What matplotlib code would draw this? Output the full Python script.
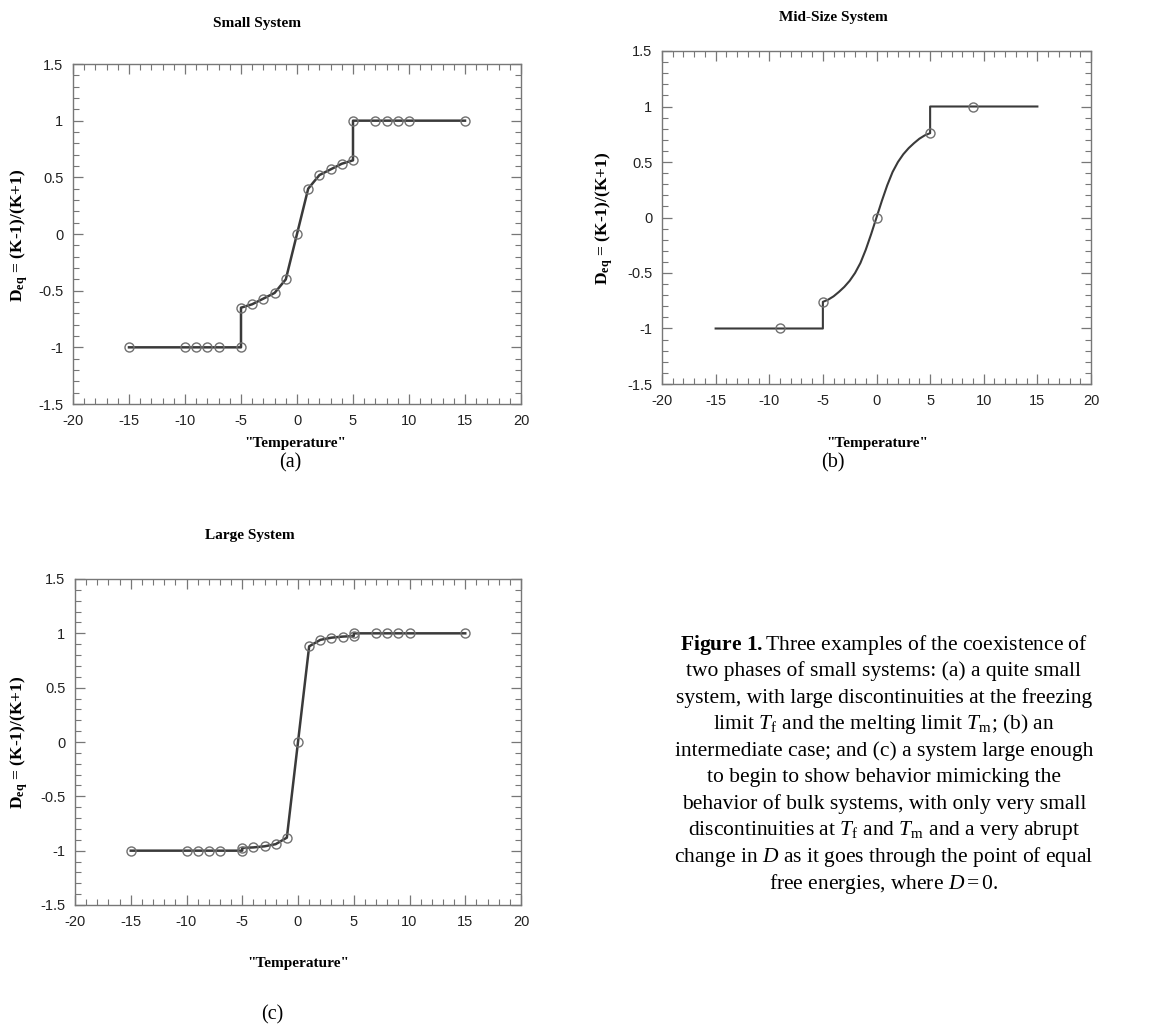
import matplotlib
matplotlib.use("Agg")
import matplotlib.pyplot as plt
from matplotlib.ticker import MultipleLocator

plt.rcParams['mathtext.fontset'] = 'custom'
plt.rcParams['mathtext.rm'] = 'Liberation Serif'
plt.rcParams['mathtext.it'] = 'Liberation Serif:italic'
plt.rcParams['mathtext.bf'] = 'Liberation Serif:bold'

# ---------------- data ----------------
# (a) small system
small_x = [-15, -10, -9, -8, -7, -5, -5, -4, -3, -2, -1, 0, 1, 2, 3, 4, 5, 5, 7, 8, 9, 10, 15]
small_y = [-1, -1, -1, -1, -1, -1, -0.65, -0.62, -0.57, -0.52, -0.40, 0, 0.40, 0.52, 0.57, 0.62, 0.65, 1, 1, 1, 1, 1, 1]

# (b) mid-size system: curve and markers
mid_curve_x = [-15, -5, -5, -4.5, -4, -3.5, -3, -2.5, -2, -1.5, -1, -0.5, 0,
               0.5, 1, 1.5, 2, 2.5, 3, 3.5, 4, 4.5, 5, 5, 15]
mid_curve_y = [-1, -1, -0.76, -0.74, -0.71, -0.67, -0.625, -0.57, -0.50, -0.41, -0.29, -0.15, 0,
               0.15, 0.29, 0.41, 0.50, 0.57, 0.625, 0.67, 0.71, 0.74, 0.76, 1, 1]
mid_mark_x = [-9, -5, 0, 5, 9]
mid_mark_y = [-1, -0.76, 0, 0.76, 1]

# (c) large system
large_x = [-15, -10, -9, -8, -7, -5, -5, -4, -3, -2, -1, 0, 1, 2, 3, 4, 5, 5, 7, 8, 9, 10, 15]
large_y = [-1, -1, -1, -1, -1, -1, -0.975, -0.97, -0.96, -0.94, -0.88, 0, 0.88, 0.94, 0.96, 0.97, 0.975, 1, 1, 1, 1, 1, 1]

titles = ["Small System", "Mid-Size System", "Large System"]
panel_labels = ["(a)", "(b)", "(c)"]
xlabel = '"Temperature"'
ylabel = r'$\mathbf{D_{eq}}$ = (K-1)/(K+1)'

caption_lines = [
    r"$\mathbf{Figure\ 1.}$Three examples of the coexistence of",
    "two phases of small systems: (a) a quite small",
    "system, with large discontinuities at the freezing",
    r"limit $T_{\mathrm{f}}$ and the melting limit $T_{\mathrm{m}}$; (b) an",
    "intermediate case; and (c) a system large enough",
    "to begin to show behavior mimicking the",
    "behavior of bulk systems, with only very small",
    r"discontinuities at $T_{\mathrm{f}}$ and $T_{\mathrm{m}}$ and a very abrupt",
    r"change in $D$ as it goes through the point of equal",
    r"free energies, where $D = 0$.",
]

W, H = 1154, 1035
fig = plt.figure(figsize=(W / 100, H / 100), dpi=100)

def fx(px):
    return px / W

def fy(py):
    return 1 - py / H

def make_axes(left, right, top, bottom):
    return fig.add_axes([fx(left), fy(bottom), (right - left) / W, (bottom - top) / H])

line_col = '#3a3a3a'
mark_col = '#707070'
frame_col = '#777777'

def style(ax):
    ax.set_xlim(-20, 20)
    ax.set_ylim(-1.5, 1.5)
    ax.xaxis.set_minor_locator(MultipleLocator(1))
    ax.yaxis.set_minor_locator(MultipleLocator(0.1))
    ax.set_xticks([-20, -15, -10, -5, 0, 5, 10, 15, 20])
    ax.set_xticklabels(['-20', '-15', '-10', '-5', '0', '5', '10', '15', '20'])
    ax.set_yticks([-1.5, -1, -0.5, 0, 0.5, 1, 1.5])
    ax.set_yticklabels(['-1.5', '-1', '-0.5', '0', '0.5', '1', '1.5'])
    ax.tick_params(which='both', direction='in', top=True, right=True, color=frame_col,
                   labelsize=10.5, labelcolor='#222222')
    ax.tick_params(which='major', length=7, width=0.9, pad=7)
    ax.tick_params(which='minor', length=4, width=0.8)
    for lab in ax.get_xticklabels() + ax.get_yticklabels():
        lab.set_family('Liberation Sans')
    for s in ax.spines.values():
        s.set_color(frame_col)
        s.set_linewidth(1.0)

ax_a = make_axes(73, 521, 64, 404)
ax_b = make_axes(662, 1091, 51, 384)
ax_c = make_axes(75, 521, 579, 905)

for ax in (ax_a, ax_b, ax_c):
    style(ax)

ax_a.plot(small_x, small_y, '-', color=line_col, lw=1.8, zorder=2)
ax_a.plot(small_x, small_y, 'o', mfc='none', mec=mark_col, mew=1.0, ms=6.5, zorder=3)

ax_b.plot(mid_curve_x, mid_curve_y, '-', color=line_col, lw=1.5, zorder=2)
ax_b.plot(mid_mark_x, mid_mark_y, 'o', mfc='none', mec=mark_col, mew=1.0, ms=6.5, zorder=3)

ax_c.plot(large_x, large_y, '-', color=line_col, lw=1.8, zorder=2)
ax_c.plot(large_x, large_y, 'o', mfc='none', mec=mark_col, mew=1.0, ms=6.5, zorder=3)

serif = 'Liberation Serif'
# titles
fig.text(fx(257), fy(24), titles[0], ha='center', va='center', family=serif, weight='bold', fontsize=11)
fig.text(fx(833), fy(17), titles[1], ha='center', va='center', family=serif, weight='bold', fontsize=11)
fig.text(fx(250), fy(536), titles[2], ha='center', va='center', family=serif, weight='bold', fontsize=11)

# x labels
for (x, y) in [(295, 443), (877, 443), (298, 963)]:
    fig.text(fx(x), fy(y), xlabel, ha='center', va='center', family=serif, weight='bold', fontsize=11)
# y labels
for (x, y) in [(19, 235), (604, 218), (19, 742)]:
    fig.text(fx(x), fy(y), ylabel, ha='center', va='center', rotation=90,
             family=serif, weight='bold', fontsize=12.5)

# panel labels
for lab, (x, y) in zip(panel_labels, [(290, 463), (833, 463), (272, 1015)]):
    fig.text(fx(x), fy(y), lab, ha='center', va='center', family=serif, fontsize=14.5)

# caption
y0 = 645
dy = 26.5
for i, line in enumerate(caption_lines):
    fig.text(fx(884), fy(y0 + i * dy), line, ha='center', va='center', family=serif, fontsize=15.5)

fig.savefig('out.png', dpi=100, facecolor='white')
